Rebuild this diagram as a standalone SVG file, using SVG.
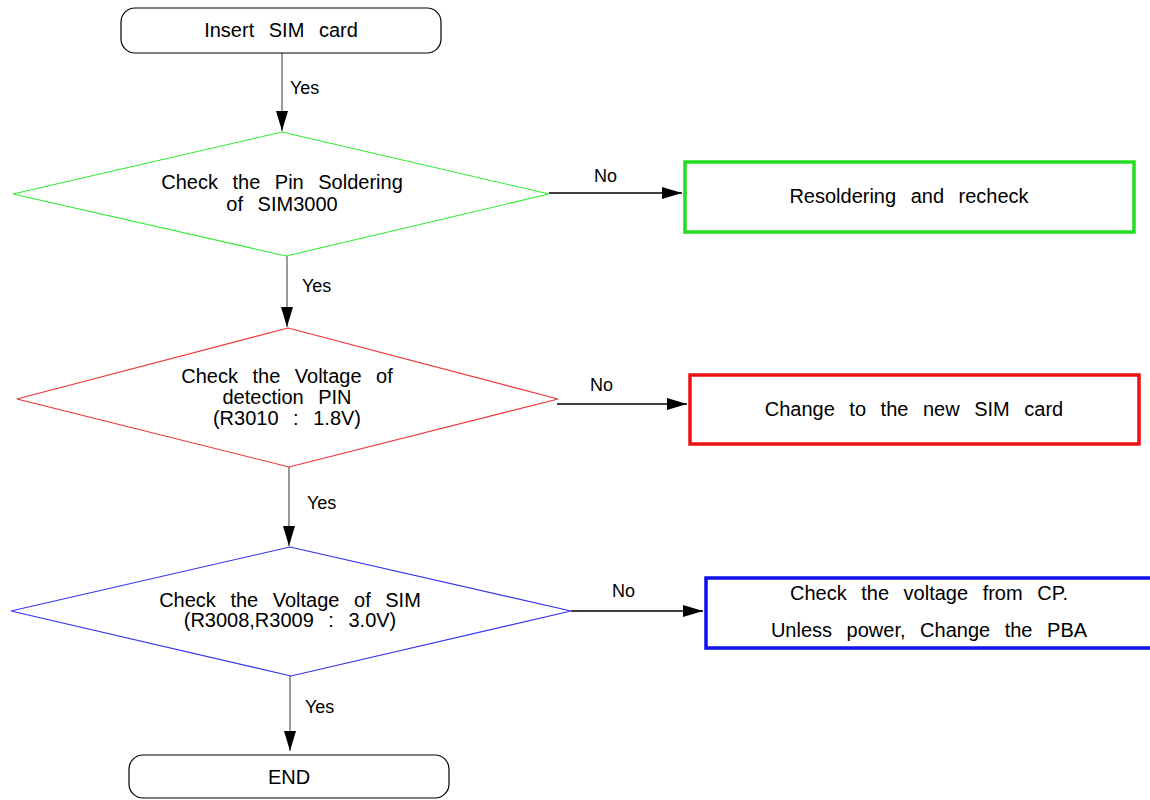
<svg xmlns="http://www.w3.org/2000/svg" width="1150" height="800" viewBox="0 0 1150 800">
<style>
text{font-family:"Liberation Sans",Arial,sans-serif;fill:#000}
.t{font-size:20px;word-spacing:9px;text-anchor:middle}
.l{font-size:18px}
.term{fill:#fff;stroke:#000;stroke-width:1.2}
.dia{fill:#fff;stroke-width:1.1}
.v{stroke:#808080;stroke-width:1.6;fill:none}
.h{stroke:#000;stroke-width:1.3;fill:none}
</style>
<defs>
<marker id="ah" markerUnits="userSpaceOnUse" markerWidth="20" markerHeight="12" refX="20" refY="6" orient="auto">
<path d="M0,0 L20,6 L0,12 Z" fill="#000"/>
</marker>
</defs>
<rect width="1150" height="800" fill="#fff"/>
<g id="connectors">
<line class="v" x1="282" y1="53" x2="282" y2="131" marker-end="url(#ah)"/>
<line class="v" x1="287" y1="256" x2="287" y2="327" marker-end="url(#ah)"/>
<line class="v" x1="289" y1="467" x2="289" y2="546" marker-end="url(#ah)"/>
<line class="v" x1="290" y1="676" x2="290" y2="751" marker-end="url(#ah)"/>
<line class="h" x1="549" y1="193" x2="682" y2="193" marker-end="url(#ah)"/>
<line class="h" x1="557" y1="404" x2="687" y2="404" marker-end="url(#ah)"/>
<line class="h" x1="571" y1="611" x2="703" y2="611" marker-end="url(#ah)"/>
<text class="l" x="290" y="94">Yes</text>
<text class="l" x="302" y="292">Yes</text>
<text class="l" x="307" y="509">Yes</text>
<text class="l" x="305" y="713">Yes</text>
<text class="l" x="594" y="182">No</text>
<text class="l" x="590" y="391">No</text>
<text class="l" x="612" y="597">No</text>
</g>
<g id="start">
<rect class="term" x="121" y="8" width="320" height="45" rx="14" ry="14"/>
<text class="t" x="281" y="37">Insert SIM card</text>
</g>
<g id="check-pin">
<polygon class="dia" stroke="#33ee33" points="282,132 549,194 286,256 13,194"/>
<text class="t" x="282" y="189">Check the Pin Soldering</text>
<text class="t" x="282" y="211">of SIM3000</text>
</g>
<g id="resolder">
<rect x="685" y="162" width="449" height="70" fill="#fff" stroke="#22dd22" stroke-width="3.5"/>
<text class="t" x="909" y="203">Resoldering and recheck</text>
</g>
<g id="check-detect">
<polygon class="dia" stroke="#ee3333" points="288,328 558,399 289,467 17,399"/>
<text class="t" x="287" y="383">Check the Voltage of</text>
<text class="t" x="287" y="404">detection PIN</text>
<text class="t" x="287" y="425">(R3010 : 1.8V)</text>
</g>
<g id="change-sim">
<rect x="690" y="375" width="449" height="69" fill="#fff" stroke="#ee1111" stroke-width="3.5"/>
<text class="t" x="914" y="416">Change to the new SIM card</text>
</g>
<g id="check-sim">
<polygon class="dia" stroke="#3333ee" points="290,547 571,611 291,676 11,611"/>
<text class="t" x="290" y="607">Check the Voltage of SIM</text>
<text class="t" x="290" y="627">(R3008,R3009 : 3.0V)</text>
</g>
<g id="check-cp">
<rect x="706" y="578" width="450" height="70" fill="#fff" stroke="#1111ee" stroke-width="3.5"/>
<text class="t" x="929" y="600">Check the voltage from CP.</text>
<text class="t" x="929" y="637">Unless power, Change the PBA</text>
</g>
<g id="end">
<rect class="term" x="129" y="755" width="320" height="43" rx="14" ry="14"/>
<text class="t" x="289" y="784">END</text>
</g>
</svg>
